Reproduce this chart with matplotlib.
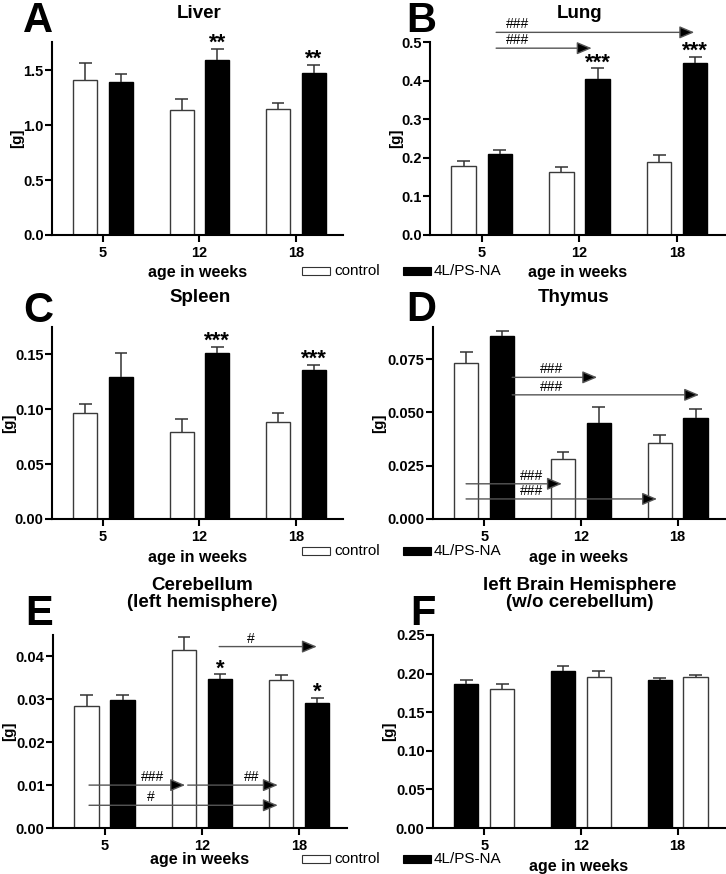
import matplotlib.pyplot as plt
from matplotlib.patches import Rectangle
import numpy as np

plt.rcParams['font.family'] = ['Liberation Sans', 'DejaVu Sans']

# ---- data (organ weights in g, mean and SEM) ----
weeks = ['5', '12', '18']

liver_ctrl = [1.41, 1.14, 1.15]
liver_ctrl_sem = [0.15, 0.10, 0.05]
liver_trt = [1.39, 1.59, 1.47]
liver_trt_sem = [0.07, 0.10, 0.075]
liver_stars = ['', '**', '**']

lung_ctrl = [0.178, 0.164, 0.189]
lung_ctrl_sem = [0.013, 0.012, 0.018]
lung_trt = [0.211, 0.405, 0.445]
lung_trt_sem = [0.010, 0.027, 0.016]
lung_stars = ['', '***', '***']

spleen_ctrl = [0.0964, 0.079, 0.088]
spleen_ctrl_sem = [0.0081, 0.012, 0.009]
spleen_trt = [0.1297, 0.1515, 0.1357]
spleen_trt_sem = [0.0213, 0.0055, 0.0049]
spleen_stars = ['', '***', '***']

thymus_ctrl = [0.0733, 0.0281, 0.0356]
thymus_ctrl_sem = [0.0048, 0.0035, 0.0040]
thymus_trt = [0.0858, 0.0452, 0.0473]
thymus_trt_sem = [0.0025, 0.0075, 0.0042]

cereb_ctrl = [0.0285, 0.0416, 0.0344]
cereb_ctrl_sem = [0.0024, 0.0029, 0.0012]
cereb_trt = [0.0299, 0.0347, 0.0291]
cereb_trt_sem = [0.0011, 0.0011, 0.0012]
cereb_stars = ['', '*', '*']

hemi_ctrl = [0.1795, 0.1959, 0.195]
hemi_ctrl_sem = [0.0069, 0.0081, 0.0035]
hemi_trt = [0.186, 0.2032, 0.1916]
hemi_trt_sem = [0.0056, 0.0068, 0.0030]

# comparison arrows: (from, to, y, label, label x)
lung_arrows = [(0.147, 2.175, 0.525, '###', 0.37),
               (0.147, 1.125, 0.484, '###', 0.37)]
thymus_arrows = [(0.289, 1.168, 0.0664, '###', 0.70),
                 (0.289, 2.222, 0.0582, '###', 0.70),
                 (-0.188, 0.803, 0.0165, '###', 0.49),
                 (-0.188, 1.787, 0.0094, '###', 0.49)]
cereb_arrows = [(1.177, 2.18, 0.0423, '#', 1.50),
                (-0.16, 0.827, 0.0100, '###', 0.49),
                (0.854, 1.779, 0.0100, '##', 1.51),
                (-0.16, 1.779, 0.0053, '#', 0.47)]

W, H = 726, 874


def box(l, t, r, b):
    return [l / W, 1 - b / H, (r - l) / W, (b - t) / H]


fig = plt.figure(figsize=(W / 100, H / 100), dpi=100)

x = np.arange(3)
bw = 0.25
off = 0.185


def panel(rect, ctrl, ctrl_sem, trt, trt_sem, ylim, yticks, fmt,
          stars=None, arrows=None, swap=False, ylab_x=-0.12, xlab_y=-0.19):
    ax = fig.add_axes(rect)
    xc = x + off if swap else x - off
    xt = x - off if swap else x + off
    ax.bar(xc, ctrl, bw, color='white', edgecolor='#3a3a3a', lw=1, zorder=2)
    ax.bar(xt, trt, bw, color='black', edgecolor='black', lw=1, zorder=2)
    for xs, m, e in ((xc, ctrl, ctrl_sem), (xt, trt, trt_sem)):
        top = np.add(m, e)
        ax.vlines(xs, m, top, color='#333333', lw=1.1, zorder=3)
        ax.hlines(top, xs - 0.066, xs + 0.066, color='#333333', lw=1.1, zorder=3)
    if stars:
        for i, s in enumerate(stars):
            if s:
                ax.text(xt[i], trt[i] + trt_sem[i], s, ha='center', va='baseline',
                        fontsize=16, fontweight='bold', zorder=4)
    if arrows:
        for x0, x1, y, lab, lx in arrows:
            ax.annotate('', xy=(x1, y), xytext=(x0, y), annotation_clip=False,
                        arrowprops=dict(arrowstyle='-|>,head_length=0.9,head_width=0.38',
                                        mutation_scale=10, ec='#555555', fc='black',
                                        lw=1, shrinkA=0, shrinkB=0), zorder=5)
            ax.annotate(lab, xy=(lx, y), xytext=(0, 8), textcoords='offset pixels',
                        ha='center', va='center', fontsize=10, annotation_clip=False,
                        zorder=5)
    ax.set_xlim(-0.53, 2.49)
    ax.set_ylim(*ylim)
    ax.set_xticks(x, weeks, fontweight='bold', fontsize=10.5)
    ax.set_yticks(yticks, [fmt % v for v in yticks], fontweight='bold', fontsize=10.5)
    ax.tick_params(axis='y', direction='out', length=5, width=1.5, pad=1)
    ax.tick_params(axis='x', direction='out', length=5, width=1.5, pad=3)
    for sp in ['top', 'right']:
        ax.spines[sp].set_visible(False)
    for sp in ['left', 'bottom']:
        ax.spines[sp].set_linewidth(1.5)
    ax.set_ylabel('[g]', fontsize=11, fontweight='bold', va='center')
    ax.yaxis.set_label_coords(ylab_x, 0.5)
    ax.set_xlabel('age in weeks', fontsize=11.5, fontweight='bold', va='center')
    ax.xaxis.set_label_coords(0.5, xlab_y)
    return ax


panel(box(52, 42, 343, 235), liver_ctrl, liver_ctrl_sem, liver_trt, liver_trt_sem,
      (0, 1.755), [0, 0.5, 1.0, 1.5], '%.1f', stars=liver_stars,
      ylab_x=-0.120, xlab_y=-0.192)
panel(box(430, 42, 725, 235), lung_ctrl, lung_ctrl_sem, lung_trt, lung_trt_sem,
      (0, 0.5), [0, 0.1, 0.2, 0.3, 0.4, 0.5], '%.1f', stars=lung_stars,
      arrows=lung_arrows, ylab_x=-0.115, xlab_y=-0.192)
panel(box(52, 327, 343, 519), spleen_ctrl, spleen_ctrl_sem, spleen_trt, spleen_trt_sem,
      (0, 0.175), [0, 0.05, 0.10, 0.15], '%.2f', stars=spleen_stars,
      ylab_x=-0.148, xlab_y=-0.198)
panel(box(433, 327, 725, 519), thymus_ctrl, thymus_ctrl_sem, thymus_trt, thymus_trt_sem,
      (0, 0.090), [0, 0.025, 0.050, 0.075], '%.3f', arrows=thymus_arrows,
      ylab_x=-0.185, xlab_y=-0.198)
panel(box(53, 635, 347, 828), cereb_ctrl, cereb_ctrl_sem, cereb_trt, cereb_trt_sem,
      (0, 0.045), [0, 0.01, 0.02, 0.03, 0.04], '%.2f', stars=cereb_stars,
      arrows=cereb_arrows, ylab_x=-0.150, xlab_y=-0.162)
panel(box(433, 635, 725, 828), hemi_ctrl, hemi_ctrl_sem, hemi_trt, hemi_trt_sem,
      (0, 0.25), [0, 0.05, 0.10, 0.15, 0.20, 0.25], '%.2f', swap=True,
      ylab_x=-0.151, xlab_y=-0.201)

# titles
titles = [('Liver', 199, 13), ('Lung', 580, 14), ('Spleen', 200, 298),
          ('Thymus', 574, 297), ('Cerebellum\n(left hemisphere)', 202, 594),
          ('left Brain Hemisphere\n(w/o cerebellum)', 580, 594)]
for t, px, py in titles:
    fig.text(px / W, 1 - py / H, t, ha='center', va='center', fontsize=13.5,
             fontweight='bold', linespacing=1.05)

# panel letters
letters = [('A', 23, 32), ('B', 406, 32), ('C', 23, 322), ('D', 406, 321),
           ('E', 25, 625), ('F', 410, 625)]
for t, px, py in letters:
    fig.text(px / W, 1 - py / H, t, ha='left', va='baseline', fontsize=30,
             fontweight='bold')

# legends between panels
for ly in [271, 551, 859]:
    fig.patches.append(Rectangle((302 / W, 1 - (ly + 4) / H), 28 / W, 8 / H,
                                 transform=fig.transFigure, fc='white', ec='#333333',
                                 lw=0.8))
    fig.text(334 / W, 1 - ly / H, 'control', ha='left', va='center', fontsize=11)
    fig.patches.append(Rectangle((403 / W, 1 - (ly + 4) / H), 28 / W, 8 / H,
                                 transform=fig.transFigure, fc='black', ec='black',
                                 lw=0.8))
    fig.text(434 / W, 1 - ly / H, '4L/PS-NA', ha='left', va='center', fontsize=11)

fig.savefig('out.png', dpi=100)
